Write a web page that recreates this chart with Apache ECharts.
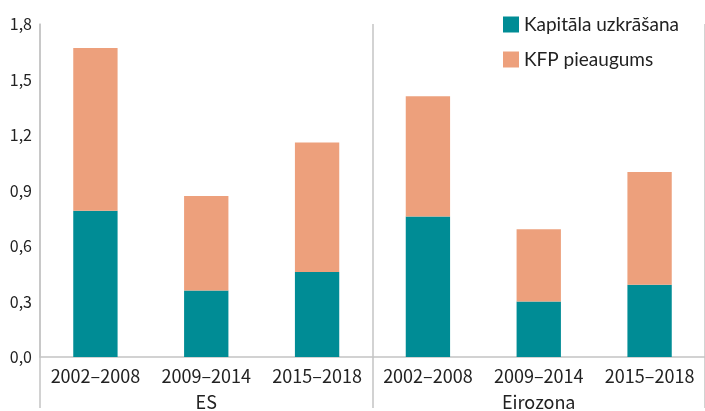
<!DOCTYPE html>
<html>
<head>
<meta charset="utf-8">
<script src="https://cdn.jsdelivr.net/npm/echarts@6/dist/echarts.min.js"></script>
<style>
    html, body { margin: 0; padding: 0; background: #fff; }
    #chart { width: 705px; height: 411px; }
</style>
</head>
<body>
<div id="chart"></div>
<script>
const periods = ['2002–2008', '2009–2014', '2015–2018', '2002–2008', '2009–2014', '2015–2018']
const groups = ['ES', 'Eirozona']
const kapitals = [0.79, 0.36, 0.46, 0.76, 0.30, 0.39]
const kfp = [0.88, 0.51, 0.70, 0.65, 0.39, 0.61]
const yTicks = [0, 0.3, 0.6, 0.9, 1.2, 1.5, 1.8]

const font = '"Noto Sans CJK SC", "Source Sans Pro", sans-serif'
const lineColor = '#c4c4c4'

const chart = echarts.init(document.getElementById('chart'))
const option = {
    textStyle: { fontFamily: font },
    color: ['#008c95', '#eda07c'],
    legend: {
        orient: 'vertical',
        left: 498,
        top: 10,
        itemWidth: 16,
        itemHeight: 16,
        itemGap: 16,
        icon: 'rect',
        // CJK font draws š badly, Lato is close enough here
        textStyle: { fontSize: 19, color: '#222', fontFamily: 'Lato, sans-serif' },
        data: ['Kapitāla uzkrāšana', 'KFP pieaugums']
    },
    grid: { left: 40, right: -2, top: 24, bottom: 51 },
    xAxis: [
        {
            type: 'category',
            data: periods,
            axisLine: { lineStyle: { color: lineColor, width: 1.5 } },
            axisTick: { show: false },
            axisLabel: { fontSize: 18, color: '#222', margin: 10, interval: 0 }
        },
        {
            type: 'category',
            data: groups,
            position: 'bottom',
            axisLine: { show: false },
            axisTick: { show: true, length: 51, lineStyle: { color: lineColor, width: 1.5 } },
            axisLabel: { fontSize: 18, color: '#222', margin: 36 },
            splitLine: { show: true, lineStyle: { color: lineColor, width: 1.5 } }
        }
    ],
    yAxis: {
        type: 'value',
        min: yTicks[0],
        max: yTicks[yTicks.length - 1],
        interval: 0.3,
        axisLine: { show: true, lineStyle: { color: lineColor, width: 1.5 } },
        axisTick: { show: false },
        splitLine: { show: false },
        axisLabel: {
            fontSize: 16,
            color: '#222',
            margin: 8,
            formatter: v => v.toFixed(1).replace('.', ',')
        }
    },
    series: [
        {
            name: 'Kapitāla uzkrāšana',
            type: 'bar',
            stack: 'total',
            barWidth: '40%',
            data: kapitals
        },
        {
            name: 'KFP pieaugums',
            type: 'bar',
            stack: 'total',
            barWidth: '40%',
            data: kfp
        }
    ]
}
chart.setOption(option)
</script>
</body>
</html>
